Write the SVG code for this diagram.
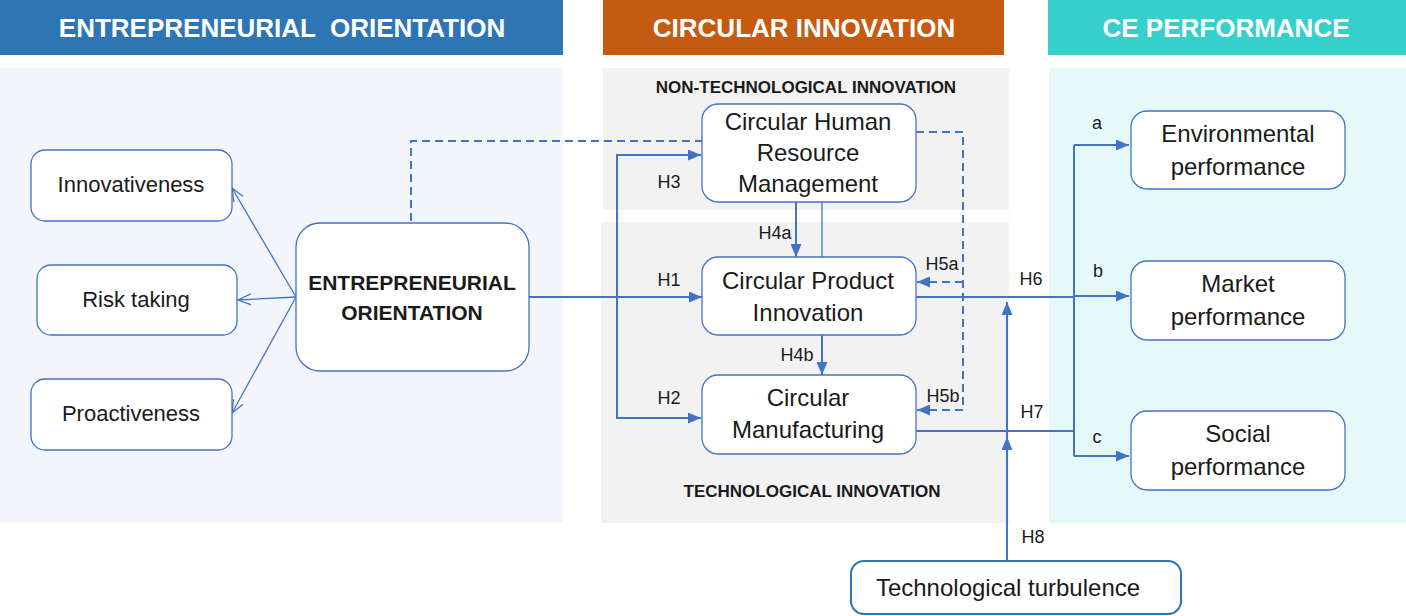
<svg xmlns="http://www.w3.org/2000/svg" width="1406" height="616" viewBox="0 0 1406 616">
<defs>
<marker id="fa" viewBox="0 0 13 11" refX="13" refY="5.5" markerWidth="13" markerHeight="11" markerUnits="userSpaceOnUse" orient="auto"><path d="M0,0 L13,5.5 L0,11 z" fill="#4472C4"/></marker>
<marker id="oa" viewBox="0 0 14 14" refX="13" refY="7" markerWidth="14" markerHeight="14" markerUnits="userSpaceOnUse" orient="auto"><path d="M0,1.5 L13,7 L0,12.5" fill="none" stroke="#4472C4" stroke-width="1.3"/></marker>
</defs>
<style>
text{font-family:"Liberation Sans",Arial,sans-serif;fill:#1a1a1a;text-anchor:middle}
.hdr{font-weight:bold;font-size:26px;fill:#fff}
.sub{font-weight:bold;font-size:17px}
.box{fill:#fff;stroke:#4472C4;stroke-width:1.3}
.t22{font-size:22px}
.t24{font-size:24px}
.lbl{font-size:18px}
.ln{fill:none;stroke:#4472C4;stroke-width:2}
.thin{stroke-width:1.3}
.dash{stroke-dasharray:8 5}
</style>
<g id="backgrounds">
<rect x="0" y="0" width="563" height="55" fill="#2E75B6"/>
<rect x="603" y="0" width="401" height="55" fill="#C55A11"/>
<rect x="1048" y="0" width="358" height="55" fill="#36CFCB"/>
<text class="hdr" x="282" y="37" font-size="24.5" style="white-space:pre">ENTREPRENEURIAL  ORIENTATION</text>
<text class="hdr" x="804" y="37">CIRCULAR INNOVATION</text>
<text class="hdr" x="1226" y="37">CE PERFORMANCE</text>
<rect x="0" y="68" width="563" height="455" fill="#F2F5FB"/>
<rect x="603" y="68" width="406" height="142" fill="#F2F2F2"/>
<rect x="601" y="222" width="408" height="301" fill="#F2F2F2"/>
<rect x="1049" y="68" width="357" height="455" fill="#E5FAF8"/>
<text class="sub" x="806" y="93">NON-TECHNOLOGICAL INNOVATION</text>
<text class="sub" x="812" y="497">TECHNOLOGICAL INNOVATION</text>
</g>
<g id="connectors">
<path class="ln thin" d="M296,297 L232,188" marker-end="url(#oa)"/>
<path class="ln thin" d="M296,297 L238,300" marker-end="url(#oa)"/>
<path class="ln thin" d="M296,297 L232,413" marker-end="url(#oa)"/>
<path class="ln dash" d="M411,221 V141 H702"/>
<path class="ln dash" d="M916,132 H963 V410 H917" marker-end="url(#fa)"/>
<path class="ln dash" d="M963,282 H917" marker-end="url(#fa)"/>
<path class="ln" d="M529,297 H702" marker-end="url(#fa)"/>
<path class="ln" d="M617,297 V155 H701" marker-end="url(#fa)"/>
<path class="ln" d="M617,297 V418 H701" marker-end="url(#fa)"/>
<path class="ln" d="M796,202 V257" marker-end="url(#fa)"/>
<path class="ln thin" d="M822,202 V257"/>
<path class="ln" d="M822,335 V375" marker-end="url(#fa)"/>
<path class="ln" d="M916,297 H1074"/>
<path class="ln" d="M916,431 H1074"/>
<path class="ln" d="M1074,145 V456"/>
<path class="ln" d="M1074,145 H1129" marker-end="url(#fa)"/>
<path class="ln" d="M1074,296 H1129" marker-end="url(#fa)"/>
<path class="ln" d="M1074,456 H1129" marker-end="url(#fa)"/>
<path class="ln" d="M1007,560 V302" marker-end="url(#fa)"/>
<path class="ln" d="M1007,460 V437" marker-end="url(#fa)"/>
<text class="lbl" x="669" y="188">H3</text>
<text class="lbl" x="775" y="239">H4a</text>
<text class="lbl" x="669" y="286">H1</text>
<text class="lbl" x="942" y="270">H5a</text>
<text class="lbl" x="1031" y="285">H6</text>
<text class="lbl" x="797" y="361">H4b</text>
<text class="lbl" x="669" y="404">H2</text>
<text class="lbl" x="943" y="402">H5b</text>
<text class="lbl" x="1032" y="418">H7</text>
<text class="lbl" x="1033" y="543">H8</text>
<text class="lbl" x="1097" y="129">a</text>
<text class="lbl" x="1098" y="277">b</text>
<text class="lbl" x="1097" y="443">c</text>
</g>
<g id="innovativeness">
<rect class="box" x="31" y="150" width="201" height="71" rx="14"/>
<text class="t22" x="131" y="192">Innovativeness</text>
</g>
<g id="risk-taking">
<rect class="box" x="37" y="265" width="200" height="70" rx="14"/>
<text class="t22" x="136" y="307">Risk taking</text>
</g>
<g id="proactiveness">
<rect class="box" x="31" y="379" width="201" height="71" rx="14"/>
<text class="t22" x="131" y="421">Proactiveness</text>
</g>
<g id="eo">
<rect class="box" x="296" y="223" width="233" height="148" rx="24"/>
<text x="412" y="290" font-size="21" font-weight="bold">ENTREPRENEURIAL</text>
<text x="412" y="320" font-size="21" font-weight="bold">ORIENTATION</text>
</g>
<g id="chrm">
<rect class="box" x="702" y="104" width="214" height="98" rx="16"/>
<text class="t24" x="808" y="130">Circular Human</text>
<text class="t24" x="808" y="161">Resource</text>
<text class="t24" x="808" y="192">Management</text>
</g>
<g id="cpi">
<rect class="box" x="702" y="257" width="214" height="78" rx="16"/>
<text class="t24" x="808" y="289">Circular Product</text>
<text class="t24" x="808" y="321">Innovation</text>
</g>
<g id="cm">
<rect class="box" x="702" y="375" width="214" height="79" rx="16"/>
<text class="t24" x="808" y="406">Circular</text>
<text class="t24" x="808" y="438">Manufacturing</text>
</g>
<g id="env">
<rect class="box" x="1131" y="111" width="214" height="78" rx="16"/>
<text class="t24" x="1238" y="142">Environmental</text>
<text class="t24" x="1238" y="175">performance</text>
</g>
<g id="market">
<rect class="box" x="1131" y="261" width="214" height="79" rx="16"/>
<text class="t24" x="1238" y="292">Market</text>
<text class="t24" x="1238" y="325">performance</text>
</g>
<g id="social">
<rect class="box" x="1131" y="411" width="214" height="79" rx="16"/>
<text class="t24" x="1238" y="442">Social</text>
<text class="t24" x="1238" y="475">performance</text>
</g>
<g id="turbulence">
<rect x="851" y="561" width="330" height="53" rx="13" fill="#fff" stroke="#2E75B6" stroke-width="2"/>
<text x="1008" y="596" font-size="24">Technological turbulence</text>
</g>
</svg>
